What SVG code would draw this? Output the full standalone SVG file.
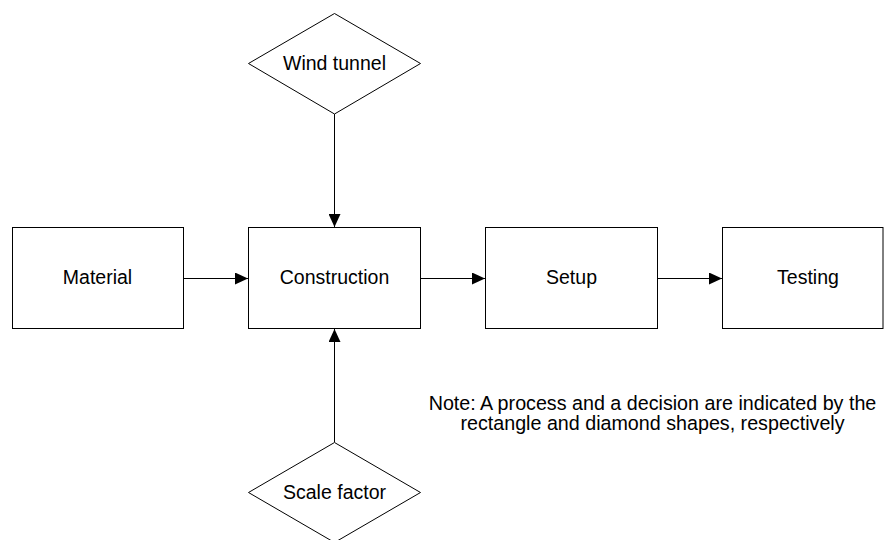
<svg xmlns="http://www.w3.org/2000/svg" width="884" height="540" viewBox="0 0 884 540">
<style>
.shape{fill:#fff;stroke:#000;stroke-width:1}
.lbl{font-family:"Liberation Sans",Arial,sans-serif;font-size:19.5px;fill:#000;text-anchor:middle}
.note{font-family:"Liberation Sans",Arial,sans-serif;font-size:19.7px;fill:#000;text-anchor:middle}
.conn{stroke:#000;stroke-width:1;fill:none;marker-end:url(#arr)}
</style>
<defs>
<marker id="arr" markerWidth="13" markerHeight="12" refX="13" refY="6" orient="auto" markerUnits="userSpaceOnUse">
<path d="M0,0 L13,6 L0,12 Z" fill="#000"/>
</marker>
</defs>
<rect width="884" height="540" fill="#fff"/>
<g id="connectors">
<line class="conn" x1="183.5" y1="278.5" x2="248" y2="278.5"/>
<line class="conn" x1="420.5" y1="278.5" x2="485" y2="278.5"/>
<line class="conn" x1="657.5" y1="278.5" x2="722" y2="278.5"/>
<line class="conn" x1="334.5" y1="114" x2="334.5" y2="227"/>
<line class="conn" x1="334.5" y1="442" x2="334.5" y2="329"/>
</g>
<g id="wind-tunnel">
<polygon class="shape" points="334.5,13.5 420.5,63.5 334.5,114 248.5,63.5"/>
<text class="lbl" x="334.5" y="70">Wind tunnel</text>
</g>
<g id="material">
<rect class="shape" x="12.5" y="227.5" width="171" height="101"/>
<text class="lbl" x="97.5" y="284">Material</text>
</g>
<g id="construction">
<rect class="shape" x="248.5" y="227.5" width="172" height="101"/>
<text class="lbl" x="334.5" y="284">Construction</text>
</g>
<g id="setup">
<rect class="shape" x="485.5" y="227.5" width="172" height="101"/>
<text class="lbl" x="571.5" y="284">Setup</text>
</g>
<g id="testing">
<rect class="shape" x="722.5" y="227.5" width="160.5" height="101"/>
<text class="lbl" x="808" y="284">Testing</text>
</g>
<g id="scale-factor">
<polygon class="shape" points="334.5,442.5 420.5,492.5 334.5,542.5 248.5,492.5"/>
<text class="lbl" x="334.5" y="499">Scale factor</text>
</g>
<g id="note">
<text class="note" x="652.5" y="410">Note: A process and a decision are indicated by the</text>
<text class="note" x="652.5" y="430">rectangle and diamond shapes, respectively</text>
</g>
</svg>
